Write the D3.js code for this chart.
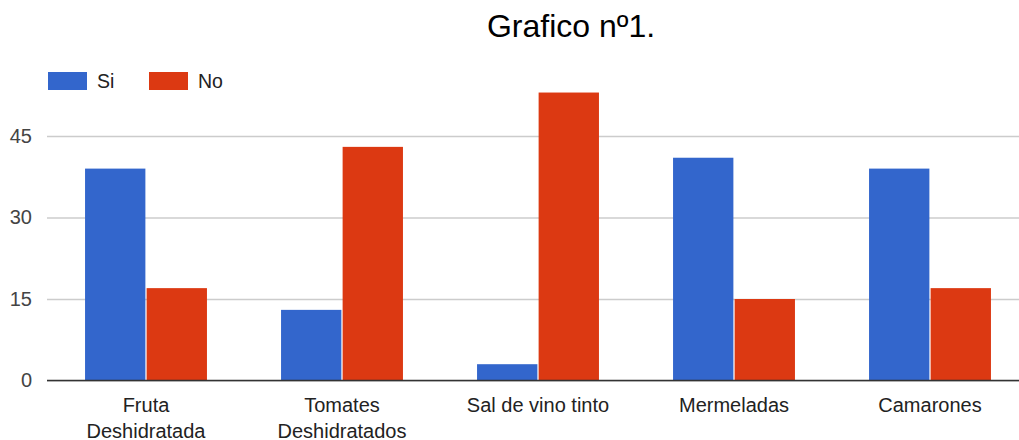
<!DOCTYPE html>
<html>
<head>
<meta charset="utf-8">
<script src="https://cdn.jsdelivr.net/npm/d3@7"></script>
<style>
  body { margin: 0; background: #fff; }
  svg { display: block; font-family: "Liberation Sans", Arial, sans-serif; }
</style>
</head>
<body>
<svg id="chart" width="1019" height="440"></svg>
<script>
const categories = [["Fruta", "Deshidratada"], ["Tomates", "Deshidratados"], ["Sal de vino tinto"], ["Mermeladas"], ["Camarones"]];
const seriesNames = ["Si", "No"];
const siValues = [39, 13, 3, 41, 39];
const noValues = [17, 43, 53, 15, 17];
const yTicks = [0, 15, 30, 45];
const colors = ["#3366cc", "#dc3912"];

const svg = d3.select("#chart");
const W = 1019;

const x0 = d3.scaleBand().domain(d3.range(categories.length)).range([48, 1028]).paddingInner(0.378).paddingOuter(0.189);
const x1 = d3.scaleBand().domain(seriesNames).range([0, x0.bandwidth()]).paddingInner(0.02);
const y = d3.scaleLinear().domain([0, 45]).range([380.5, 136]);

// gridlines and value ticks
const yAxis = d3.axisLeft(y).tickValues(yTicks).tickSize(-(W - 47)).tickFormat(d3.format("d"));
const gy = svg.append("g").attr("transform", "translate(47,0)").call(yAxis);
gy.select(".domain").remove();
gy.selectAll(".tick line").attr("stroke", "#cccccc").attr("stroke-width", 1.5);
gy.selectAll(".tick text").attr("x", -15).attr("fill", "#444").attr("font-size", 20)
  .attr("font-family", "Liberation Sans, Arial, sans-serif");

// bars
const series = [siValues, noValues];
const groups = svg.append("g").selectAll("g").data(categories).join("g")
  .attr("transform", (d, i) => `translate(${x0(i)},0)`);
groups.selectAll("rect").data((d, i) => seriesNames.map((s, k) => ({ s, k, v: series[k][i] })))
  .join("rect")
  .attr("x", d => x1(d.s))
  .attr("y", d => y(d.v))
  .attr("width", x1.bandwidth())
  .attr("height", d => y(0) - y(d.v))
  .attr("fill", d => colors[d.k]);

// baseline
svg.append("line").attr("x1", 47).attr("x2", W).attr("y1", y(0)).attr("y2", y(0))
  .attr("stroke", "#333").attr("stroke-width", 1.5);

// category labels
const xl = svg.append("g").selectAll("text").data(categories).join("text")
  .attr("x", (d, i) => x0(i) + x0.bandwidth() / 2)
  .attr("y", 411.5)
  .attr("text-anchor", "middle")
  .attr("font-size", 20)
  .attr("fill", "#222");
xl.selectAll("tspan").data(d => d).join("tspan")
  .attr("x", function () { return d3.select(this.parentNode).attr("x"); })
  .attr("dy", (d, i) => i === 0 ? 0 : 26)
  .text(d => d);

// title
svg.append("text").attr("x", 571).attr("y", 37).attr("text-anchor", "middle")
  .attr("font-size", 32).attr("fill", "#000").text("Grafico nº1.");

// legend
const legend = svg.append("g").selectAll("g").data(seriesNames).join("g")
  .attr("transform", (d, i) => `translate(${48 + i * 101},72)`);
legend.append("rect").attr("width", 39).attr("height", 18).attr("fill", (d, i) => colors[i]);
legend.append("text").attr("x", 49).attr("y", 16.3).attr("font-size", 19.5).attr("fill", "#222").text(d => d);
</script>
</body>
</html>
